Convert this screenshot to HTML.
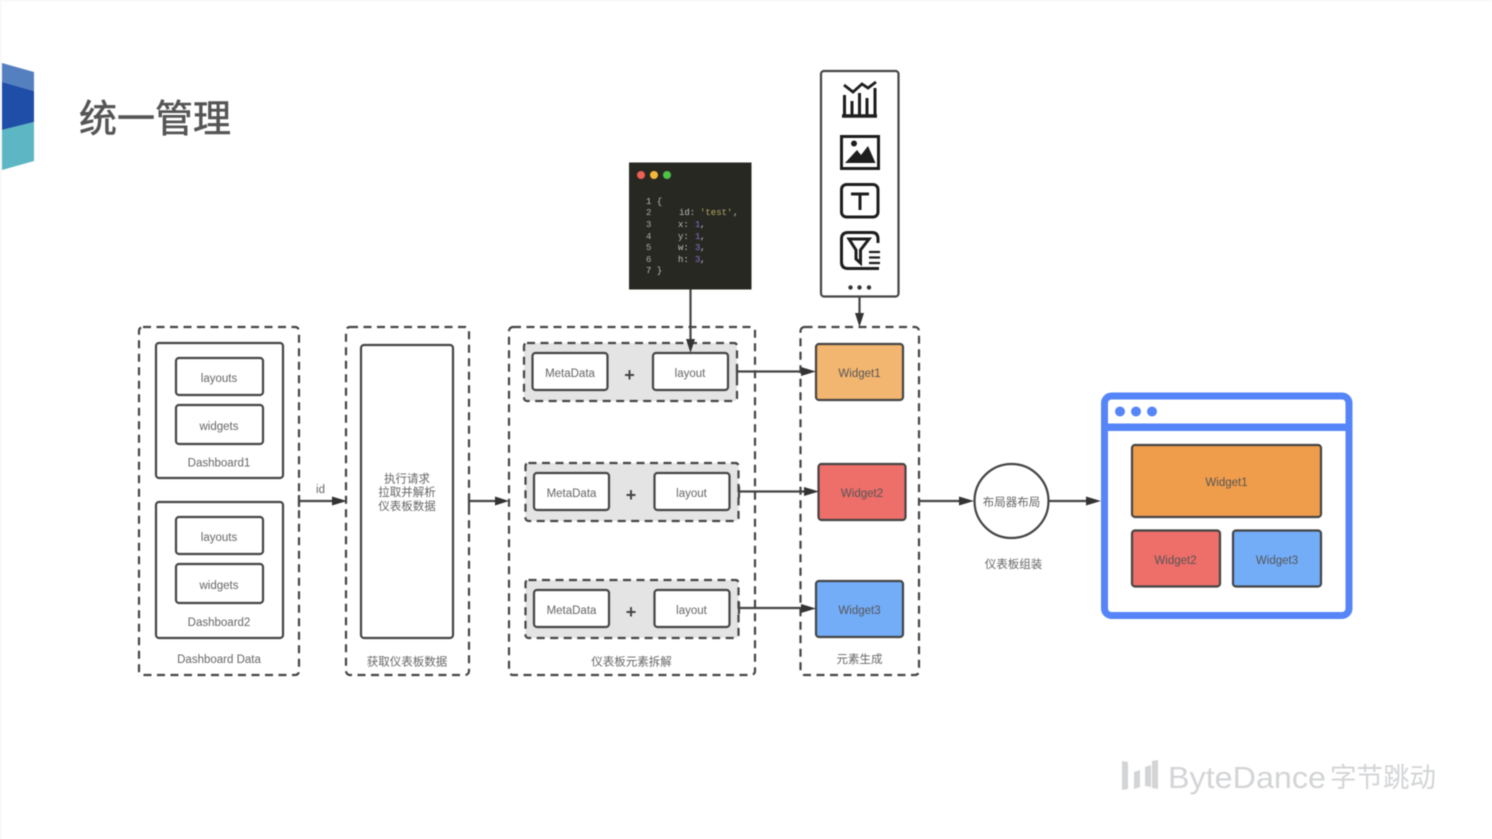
<!DOCTYPE html>
<html><head><meta charset="utf-8">
<style>
html,body{margin:0;padding:0;background:#fff;width:1492px;height:839px;overflow:hidden}
svg{display:block;filter:blur(.5px)}
text{font-family:"Liberation Sans","Noto Sans CJK SC",sans-serif;fill:#666;font-size:11.5px;text-anchor:middle}
.b{fill:#fff;stroke:#444;stroke-width:2.2}
.d{fill:none;stroke:#444;stroke-width:2.2;stroke-dasharray:8 5.5}
.g{fill:#e4e4e4;stroke:#444;stroke-width:2.2;stroke-dasharray:8 5.5}
.l{stroke:#444;stroke-width:2.2;fill:none}
.a{fill:#333}
.p{font-size:18px;fill:#444;font-weight:bold}
.c text{font-family:"Liberation Mono",monospace;font-size:9px;text-anchor:start}
</style></head><body>
<svg width="1492" height="839" viewBox="0 0 1492 839" xmlns="http://www.w3.org/2000/svg">
<rect width="1492" height="839" fill="#fff"/>
<rect x="0" y="0" width="1" height="839" fill="#f1f1f1"/>
<rect x="0" y="0" width="1492" height="1" fill="#f4f4f4"/>
<!-- logo -->
<polygon points="2,63 34,72 34,91 2,82" fill="#5580c0"/>
<polygon points="2,82 34,91 34,122 2,130" fill="#1f4ea8"/>
<polygon points="2,130 34,122 34,161 2,170" fill="#5cb6c3"/>
<text x="155" y="132" style="font-size:38px;fill:#555;stroke:#555;stroke-width:.6px">统一管理</text>

<!-- dashed containers -->
<rect class="d" x="139" y="327" width="160" height="348" rx="4"/>
<rect class="d" x="346" y="327" width="123" height="348" rx="4"/>
<rect class="d" x="509" y="327" width="246" height="348" rx="4"/>
<rect class="d" x="800.500" y="327" width="118.500" height="348" rx="4"/>

<!-- dashboard 1 -->
<rect class="b" x="156" y="343" width="127" height="135" rx="3"/>
<rect class="b" x="176" y="358" width="87" height="37" rx="3"/>
<text x="219" y="382">layouts</text>
<rect class="b" x="176" y="405" width="87" height="39" rx="3"/>
<text x="219" y="430">widgets</text>
<text x="219" y="466.500">Dashboard1</text>
<!-- dashboard 2 -->
<rect class="b" x="156" y="502" width="127" height="136" rx="3"/>
<rect class="b" x="176" y="517" width="87" height="37" rx="3"/>
<text x="219" y="541">layouts</text>
<rect class="b" x="176" y="564" width="87" height="39" rx="3"/>
<text x="219" y="589">widgets</text>
<text x="219" y="626">Dashboard2</text>
<text x="219" y="663">Dashboard Data</text>

<!-- request -->
<rect class="b" x="361" y="345" width="92" height="293" rx="3"/>
<text x="407" y="482.500">执行请求</text>
<text x="407" y="496">拉取并解析</text>
<text x="407" y="510">仪表板数据</text>
<text x="407" y="665.500">获取仪表板数据</text>

<!-- metadata groups -->
<rect class="g" x="524" y="343" width="213" height="58" rx="3"/>
<rect class="b" x="532.500" y="353" width="75" height="37" rx="3"/>
<rect class="b" x="653" y="353" width="75" height="37" rx="3"/>
<text x="570" y="377">MetaData</text>
<text x="690" y="377">layout</text>
<text x="629.500" y="381" class="p">+</text>

<rect class="g" x="525.500" y="463" width="213" height="58" rx="3"/>
<rect class="b" x="534" y="473" width="75" height="37" rx="3"/>
<rect class="b" x="654.500" y="473" width="75" height="37" rx="3"/>
<text x="571.500" y="497">MetaData</text>
<text x="691.500" y="497">layout</text>
<text x="631" y="501" class="p">+</text>

<rect class="g" x="525.500" y="580" width="213" height="58" rx="3"/>
<rect class="b" x="534" y="590" width="75" height="37" rx="3"/>
<rect class="b" x="654.500" y="590" width="75" height="37" rx="3"/>
<text x="571.500" y="614">MetaData</text>
<text x="691.500" y="614">layout</text>
<text x="631" y="618" class="p">+</text>
<text x="631.500" y="665.500">仪表板元素拆解</text>

<!-- widgets -->
<rect class="b" style="fill:#f3b670" x="816" y="344" width="87" height="56" rx="3"/>
<text x="859.500" y="377" style="fill:#555">Widget1</text>
<rect class="b" style="fill:#ee6e69" x="818.500" y="464" width="87" height="56" rx="3"/>
<text x="862" y="497" style="fill:#555">Widget2</text>
<rect class="b" style="fill:#73adf8" x="816" y="581" width="87" height="56" rx="3"/>
<text x="859.500" y="614" style="fill:#555">Widget3</text>
<text x="859.500" y="663">元素生成</text>

<!-- circle -->
<circle cx="1011.500" cy="501" r="37" fill="#fff" stroke="#444" stroke-width="2.200"/>
<text x="1011.500" y="506">布局器布局</text>
<text x="1013.500" y="568">仪表板组装</text>

<!-- connectors -->
<path class="l" d="M299 501H334M469 501H498M737 371.500H804M739 491.500H806M739 608H804M919 501H962M1049 501H1088M690.500 289V340M859.500 297V315"/>
<path class="l" d="M299 495V507M469 495V507M737 366V378M739 486V498M739 602V614"/>
<path class="a" d="M332 496.500L347 501L332 505.500ZM495 496.500L509 501L495 505.500ZM801 367L816 371.500L801 376ZM804 487L819 491.500L804 496ZM801 604L816 608.500L801 613ZM959 496.500L974 501L959 505.500ZM1086 496.500L1101 501L1086 505.500ZM686 339L690.500 353L695 339ZM855 313L859.500 327L864 313Z"/>
<text x="320.500" y="493">id</text>

<!-- browser -->
<rect x="1104.500" y="396" width="244.500" height="219.500" rx="7" fill="#fff" stroke="#5585f7" stroke-width="7"/>
<rect x="1103" y="423.500" width="247" height="7.500" fill="#5585f7"/>
<circle cx="1120" cy="411.500" r="5" fill="#5585f7"/>
<circle cx="1136" cy="411.500" r="5" fill="#5585f7"/>
<circle cx="1152" cy="411.500" r="5" fill="#5585f7"/>
<rect class="b" style="fill:#f09d4b" x="1132" y="445" width="189" height="72" rx="3"/>
<text x="1226.500" y="486" style="fill:#555">Widget1</text>
<rect class="b" style="fill:#ee6e69" x="1132" y="530.500" width="88" height="56" rx="3"/>
<text x="1175.500" y="564" style="fill:#555">Widget2</text>
<rect class="b" style="fill:#73adf8" x="1233" y="530.500" width="88" height="56" rx="3"/>
<text x="1277" y="564" style="fill:#555">Widget3</text>

<!-- code -->
<rect x="629" y="162.500" width="122.500" height="127" fill="#282823"/>
<circle cx="641" cy="175" r="4" fill="#ee5f55"/>
<circle cx="654" cy="175" r="4" fill="#f4b73a"/>
<circle cx="667" cy="175" r="4" fill="#4fc24a"/>
<g class="c">
<text x="646" y="204" style="fill:#bbb">1 {</text>
<text x="646" y="215" style="fill:#aaa">2</text><text x="679" y="215" style="fill:#bbb">id:</text><text x="700" y="215" style="fill:#b5a862">'test'</text><text x="733" y="215" style="fill:#bbb">,</text>
<text x="646" y="227" style="fill:#aaa">3</text><text x="678" y="227" style="fill:#bbb">x:</text><text x="695" y="227" style="fill:#8a6fd0">1</text><text x="700" y="227" style="fill:#bbb">,</text>
<text x="646" y="239" style="fill:#aaa">4</text><text x="678" y="239" style="fill:#bbb">y:</text><text x="695" y="239" style="fill:#8a6fd0">1</text><text x="700" y="239" style="fill:#bbb">,</text>
<text x="646" y="250" style="fill:#aaa">5</text><text x="678" y="250" style="fill:#bbb">w:</text><text x="695" y="250" style="fill:#8a6fd0">3</text><text x="700" y="250" style="fill:#bbb">,</text>
<text x="646" y="262" style="fill:#aaa">6</text><text x="678" y="262" style="fill:#bbb">h:</text><text x="695" y="262" style="fill:#8a6fd0">3</text><text x="700" y="262" style="fill:#bbb">,</text>
<text x="646" y="273" style="fill:#bbb">7 }</text>
</g>

<!-- palette -->
<rect x="821" y="71" width="77.500" height="225.500" rx="3" fill="#fff" stroke="#444" stroke-width="2.200"/>
<g stroke="#1d1d1d" fill="none">
<path stroke-width="2.800" d="M844 85L853 92L862 84L868 88L876 82"/>
<path stroke-width="3.500" d="M842 116H877"/>
<path stroke-width="3" d="M844.500 95V115M852 101V115M859.500 93V115M867 98V115M875 88V115"/>
<rect x="841.500" y="136.500" width="37" height="32" stroke-width="3"/>
<rect x="841.500" y="184.500" width="36.500" height="32.500" rx="5" stroke-width="3"/>
<path stroke-width="3" d="M851 194H869M860 194V210"/>
<path stroke-width="3" d="M879 268.500H848Q841.500 268.500 841.500 262V239Q841.500 232.500 848 232.500H872Q878 232.500 878 239V243"/>
<path stroke-width="3" d="M849 239H869L860.500 250V263L856 259V250Z"/>
<path stroke-width="2.200" d="M869 252H880M869 257.500H880M869 263H880"/>
</g>
<circle cx="854" cy="143.500" r="3" fill="#1d1d1d"/>
<path fill="#1d1d1d" d="M845 163L857 150L861 155L868 146L875.500 163Z"/>
<circle cx="850.500" cy="287.500" r="2.200" fill="#333"/>
<circle cx="859.500" cy="287.500" r="2.200" fill="#333"/>
<circle cx="869" cy="287.500" r="2.200" fill="#333"/>

<!-- bytedance -->
<g fill="#d2d4d6">
<polygon points="1122,761 1128,762 1128,789 1122,790"/>
<polygon points="1134,772 1140,770 1140,787 1134,789"/>
<polygon points="1145,767 1151,765 1151,787 1145,786"/>
<polygon points="1152,761 1158,760 1158,789 1152,788"/>
</g>
<text x="1168" y="788" textLength="158" lengthAdjust="spacingAndGlyphs" style="font-size:31px;fill:#d2d4d6;text-anchor:start">ByteDance</text>
<text x="1330" y="787" textLength="106" lengthAdjust="spacingAndGlyphs" style="font-size:27px;fill:#d2d4d6;text-anchor:start">字节跳动</text>
</svg>
</body></html>
